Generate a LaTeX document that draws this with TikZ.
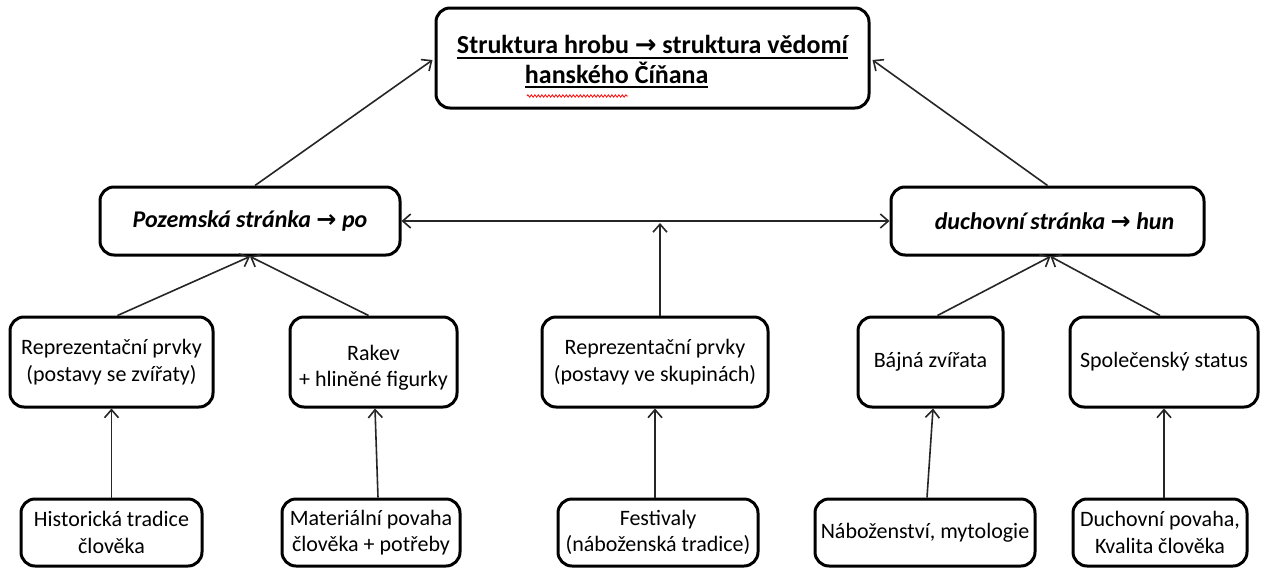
\documentclass[tikz,border=0pt]{standalone}
\usepackage{fontspec}
\setmainfont{Carlito}
\newfontfamily\dejavu{DejaVu Sans}
\usetikzlibrary{arrows.meta,decorations.pathmorphing,calc}
\newcommand{\myarr}{{\dejavu →}}
\newcommand{\myul}[1]{\setbox0\hbox{#1}\rlap{\vrule height -3pt depth 5pt width \wd0}\box0}
\begin{document}
\begin{tikzpicture}[x=1pt,y=-1pt,
  box/.style={draw=black, line width=3pt, rounded corners=14pt, align=center, inner sep=0pt, fill=white,
              font=\fontsize{22}{26.5}\selectfont},
  head/.style={box, font=\bfseries\itshape\fontsize{24}{28}\selectfont, minimum height=68pt},
  conn/.style={draw=black!85, line width=1.6pt, -{Straight Barb[length=8pt,width=14pt]}},
  conn2/.style={draw=black!85, line width=1.6pt, {Straight Barb[length=8pt,width=14pt]}-{Straight Barb[length=8pt,width=14pt]}},
  squiggle/.style={draw=red, line width=0.8pt, decorate, decoration={zigzag, amplitude=1.2pt, segment length=3.5pt}}
]
\useasboundingbox (0,0) rectangle (1272,568);
\fill[white] (0,0) rectangle (1272,568);

% top
\node[box, minimum width=433pt, minimum height=100pt,
      font=\bfseries\fontsize{26}{27}\selectfont] (top) at (652.5,58)
  {\raisebox{-5pt}[\height][\depth]{\begin{tabular}{@{}l@{}}\myul{Struktura hrobu \myarr{} struktura vědomí}\\\hspace*{68pt}\myul{hanského Číňana}\end{tabular}}};

% middle
\node[head, minimum width=300pt] (P) at (250,221) {Pozemská stránka \myarr{} po};
\node[head, minimum width=313pt] (D) at (1047.5,221) {\hspace*{14pt}duchovní stránka \myarr{} hun};

% second row
\node[box, minimum width=203pt, minimum height=90pt] (A) at (111.5,362) {Reprezentační prvky\\(postavy se zvířaty)};
\node[box, minimum width=167pt, minimum height=90pt] (B) at (373.5,362) {\raisebox{-6pt}[\height][\depth]{\begin{tabular}{@{}c@{}}Rakev\\+ hliněné figurky\end{tabular}}};
\node[box, minimum width=226pt, minimum height=90pt] (C) at (655,362) {Reprezentační prvky\\(postavy ve skupinách)};
\node[box, minimum width=145pt, minimum height=90pt] (Bz) at (930.5,362) {Bájná zvířata};
\node[box, minimum width=188pt, minimum height=90pt] (E) at (1164,362) {Společenský status};

% bottom row
\node[box, minimum width=181pt, minimum height=67pt] (F) at (111.5,532.5) {Historická tradice\\člověka};
\node[box, minimum width=178pt, minimum height=67pt] (G) at (371,532.5) {Materiální povaha\\člověka + potřeby};
\node[box, minimum width=200pt, minimum height=67pt] (H) at (658,532.5) {Festivaly\\(náboženská tradice)};
\node[box, minimum width=220pt, minimum height=67pt] (I) at (925,532.5) {Náboženství, mytologie};
\node[box, minimum width=174pt, minimum height=67pt] (J) at (1160,532.5) {Duchovní povaha,\\Kvalita člověka};

% spell-check squiggle
\draw[squiggle] (527,96) -- (628,96);

% connectors
\draw[conn] ($(P.north)+(5,0)$) -- ($(top.west)+(-2,2)$);
\draw[conn] (D.north) -- ($(top.east)+(2,2)$);
\draw[conn2] (P.east) -- (D.west);
\coordinate (m) at ($(C.north |- P.east)+(0,2)$);
\draw[conn] ($(C.north)+(5,0)$) -- ($(m)+(5,0)$);
\draw[conn] ($(A.north)+(6,0)$) -- (P.south);
\draw[conn] ($(B.north)+(-5,0)$) -- (P.south);
\draw[conn] ($(Bz.north)+(7,0)$) -- ($(D.south)+(3,0)$);
\draw[conn] ($(E.north)+(-4,0)$) -- ($(D.south)+(3,0)$);
\draw[conn] (F.north) -- (A.south);
\draw[conn] ($(G.north)+(7,0)$) -- ($(B.south)+(1.5,0)$);
\draw[conn] ($(H.north)+(-3,0)$) -- (C.south);
\draw[conn] ($(I.north)+(2,0)$) -- ($(Bz.south)+(2.5,0)$);
\draw[conn] ($(J.north)+(4,0)$) -- (E.south);
\end{tikzpicture}
\end{document}
